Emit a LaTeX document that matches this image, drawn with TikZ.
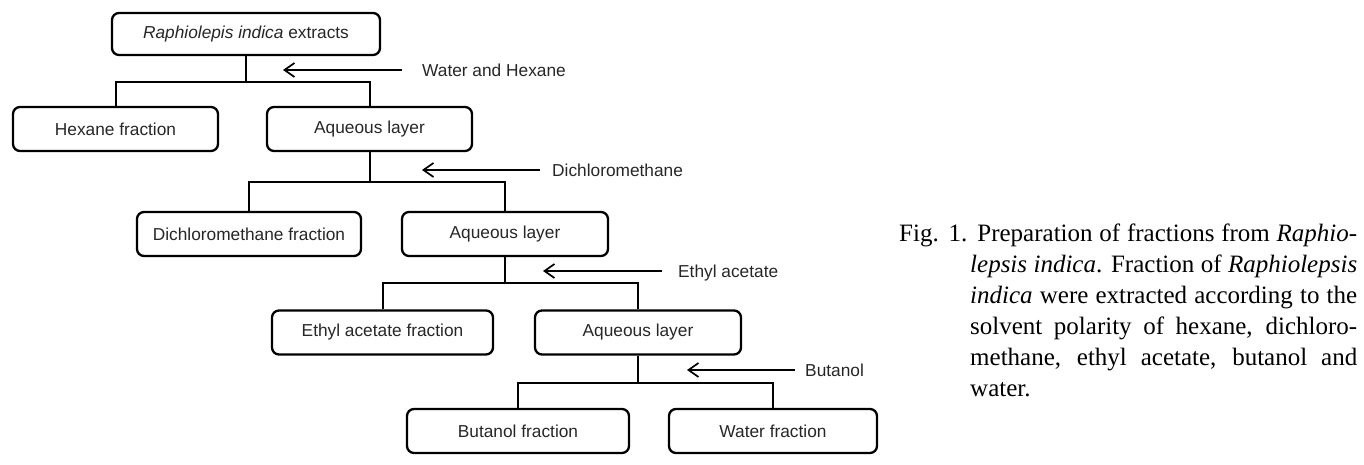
\documentclass[tikz,border=0pt]{standalone}
\usepackage{fontspec}
\setmainfont{Liberation Serif}
\newfontfamily\boxfont{Liberation Sans}
\usetikzlibrary{arrows.meta}
\tikzset{
  fbox/.style={draw, line width=2.3pt, rounded corners=7pt, minimum height=44pt,
    inner sep=0pt, font=\boxfont\fontsize{17.3}{20}\selectfont, text=black!85},
  conn/.style={line width=2pt},
  solv/.style={inner sep=0pt, anchor=west, text height=12.4pt, text depth=0pt,
    font=\boxfont\fontsize{17.3}{20}\selectfont, text=black!85},
  arr/.style={line width=1.7pt, -{Straight Barb[length=10pt,width=14pt]}},
  capline/.style={anchor=base west, inner sep=0pt, font=\fontsize{25}{30}\selectfont}
}
\begin{document}
\begin{tikzpicture}[x=1pt,y=1pt]
\useasboundingbox (0,0) rectangle (1364,465);
% boxes
\node[fbox, minimum width=268pt, minimum height=42pt] (b0) at (246,431) {\textit{Raphiolepis indica} extracts};
\node[fbox, minimum width=205pt] (hex) at (115.5,336) {Hexane fraction};
\node[fbox, minimum width=205pt] (aq1) at (369.5,336) {Aqueous layer};
\node[fbox, minimum width=224pt] (dcm) at (249,231) {Dichloromethane fraction};
\node[fbox, minimum width=206pt] (aq2) at (505,231) {Aqueous layer};
\node[fbox, minimum width=221pt] (ea) at (382.5,132.5) {Ethyl acetate fraction};
\node[fbox, minimum width=206pt] (aq3) at (638,132.5) {Aqueous layer};
\node[fbox, minimum width=222pt] (bu) at (518,34) {Butanol fraction};
\node[fbox, minimum width=208pt] (wa) at (773,34) {Water fraction};
% junction levels
\coordinate (h1) at (0,383);
\coordinate (h2) at (0,283);
\coordinate (h3) at (0,182);
\coordinate (h4) at (0,82);
% connectors
\draw[conn] (b0.south) -- (b0.south |- h1) -| (hex.north);
\draw[conn] (b0.south |- h1) -| (aq1.north);
\draw[conn] (aq1.south) -- (aq1.south |- h2) -| (dcm.north);
\draw[conn] (aq1.south |- h2) -| (aq2.north);
\draw[conn] (aq2.south) -- (aq2.south |- h3) -| (ea.north);
\draw[conn] (aq2.south |- h3) -| (aq3.north);
\draw[conn] (aq3.south) -- (aq3.south |- h4) -| (bu.north);
\draw[conn] (aq3.south |- h4) -| (wa.north);
% solvent labels and arrows
\node[solv] (l1) at (422,395) {Water and Hexane};
\node[solv] (l2) at (552,295) {Dichloromethane};
\node[solv] (l3) at (678,194) {Ethyl acetate};
\node[solv] (l4) at (805,95) {Butanol};
\coordinate (t1) at (283,395);
\coordinate (t2) at (422,295);
\coordinate (t3) at (543,194);
\coordinate (t4) at (687,95);
\draw[arr, shorten <=20pt] (l1.west) -- (t1);
\draw[arr, shorten <=12pt] (l2.west) -- (t2);
\draw[arr, shorten <=16pt] (l3.west) -- (t3);
\draw[arr, shorten <=10pt] (l4.west) -- (t4);
% caption
\node[capline] (c1) at (899,223) {\makebox[458pt][s]{Fig. 1. Preparation of fractions from \textit{Raphio-}}};
\node[capline] (c2) at (970,192) {\makebox[387pt][s]{\textit{lepsis indica}. Fraction of \textit{Raphiolepsis}}};
\node[capline] (c3) at (970,161) {\makebox[387pt][s]{\textit{indica} were extracted according to the}};
\node[capline] (c4) at (970,130) {\makebox[387pt][s]{solvent polarity of hexane, dichloro-}};
\node[capline] (c5) at (970,99) {\makebox[387pt][s]{methane, ethyl acetate, butanol and}};
\node[capline] (c6) at (970,68) {water.};
\end{tikzpicture}
\end{document}
